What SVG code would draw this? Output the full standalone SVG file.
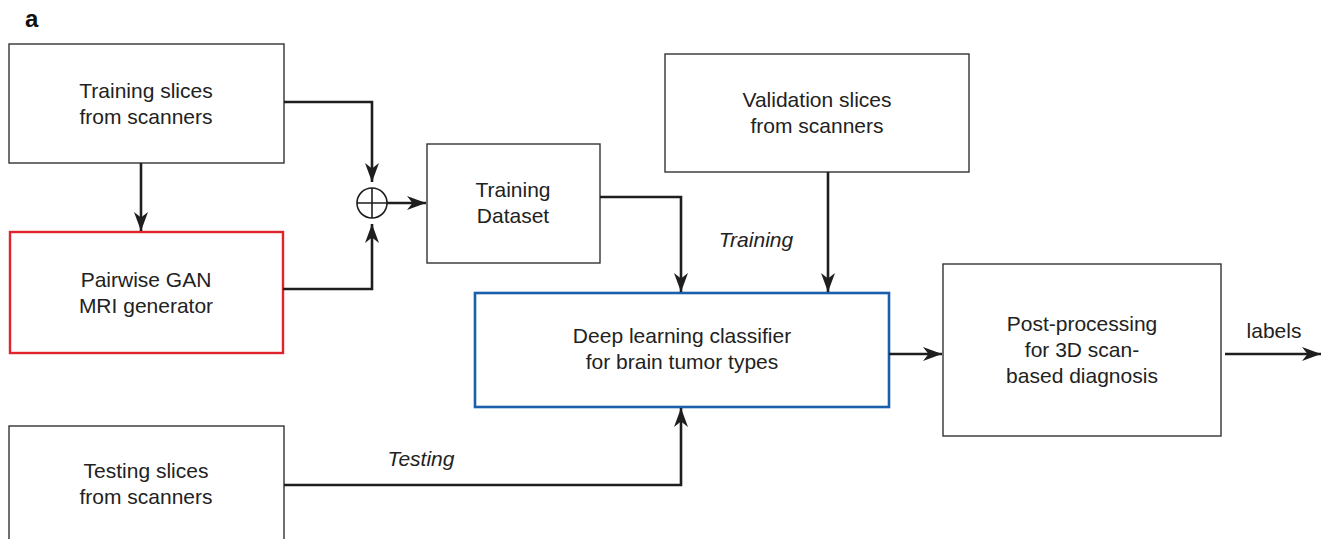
<svg xmlns="http://www.w3.org/2000/svg" width="1322" height="539" viewBox="0 0 1322 539">
  <style>
    .box { fill: #ffffff; stroke: #333333; stroke-width: 1.4; }
    .red { fill: #ffffff; stroke: #e0242c; stroke-width: 2.4; }
    .blue { fill: #ffffff; stroke: #1a5fab; stroke-width: 2.6; }
    .lbl { font-family: "Liberation Sans", Arial, Helvetica, sans-serif; font-size: 21px; fill: #222222; text-anchor: middle; }
    .it { font-style: italic; }
    .wire { fill: none; stroke: #1e1e1e; stroke-width: 2.6; }
    .panel { font-family: "Liberation Sans", Arial, Helvetica, sans-serif; font-size: 24px; font-weight: bold; fill: #111111; }
  </style>
  <defs>
    <marker id="head" markerUnits="userSpaceOnUse" markerWidth="24" markerHeight="16" viewBox="-20 -8 22 16" refX="0" refY="0" orient="auto">
      <path d="M0,0 L-19,-7 L-13.5,0 L-19,7 Z" fill="#1e1e1e"/>
    </marker>
  </defs>

  <rect width="1322" height="539" fill="#ffffff"/>
  <text class="panel" x="25" y="27">a</text>

  <g id="training-slices">
    <rect class="box" x="9" y="44" width="275" height="119"/>
    <text class="lbl" x="146" y="98">Training slices</text>
    <text class="lbl" x="146" y="124">from scanners</text>
  </g>

  <g id="gan-generator">
    <rect class="red" x="10" y="232" width="273" height="121"/>
    <text class="lbl" x="146" y="287">Pairwise GAN</text>
    <text class="lbl" x="146" y="313">MRI generator</text>
  </g>

  <g id="combine">
    <circle cx="372" cy="203" r="15" fill="#ffffff" stroke="#1e1e1e" stroke-width="1.6"/>
    <path d="M357,203 H387 M372,188 V218" stroke="#1e1e1e" stroke-width="1.6"/>
  </g>

  <g id="training-dataset">
    <rect class="box" x="427" y="144" width="173" height="119"/>
    <text class="lbl" x="513" y="197">Training</text>
    <text class="lbl" x="513" y="223">Dataset</text>
  </g>

  <g id="validation-slices">
    <rect class="box" x="665" y="54" width="304" height="118"/>
    <text class="lbl" x="817" y="107">Validation slices</text>
    <text class="lbl" x="817" y="133">from scanners</text>
  </g>

  <g id="classifier">
    <rect class="blue" x="475" y="293" width="414" height="114"/>
    <text class="lbl" x="682" y="343">Deep learning classifier</text>
    <text class="lbl" x="682" y="369">for brain tumor types</text>
  </g>

  <g id="post-processing">
    <rect class="box" x="943" y="264" width="278" height="172"/>
    <text class="lbl" x="1082" y="331">Post-processing</text>
    <text class="lbl" x="1082" y="357">for 3D scan-</text>
    <text class="lbl" x="1082" y="383">based diagnosis</text>
  </g>

  <g id="testing-slices">
    <rect class="box" x="9" y="426" width="275" height="130"/>
    <text class="lbl" x="146" y="478">Testing slices</text>
    <text class="lbl" x="146" y="504">from scanners</text>
  </g>

  <g id="connectors">
    <path class="wire" d="M141,163 V231" marker-end="url(#head)"/>
    <path class="wire" d="M284,102 H372 V182" marker-end="url(#head)"/>
    <path class="wire" d="M283,289 H372 V224" marker-end="url(#head)"/>
    <path class="wire" d="M387,203 H426" marker-end="url(#head)"/>
    <path class="wire" d="M600,197 H681 V292" marker-end="url(#head)"/>
    <path class="wire" d="M828,172 V292" marker-end="url(#head)"/>
    <path class="wire" d="M284,485 H681 V408" marker-end="url(#head)"/>
    <path class="wire" d="M889,354 H942" marker-end="url(#head)"/>
    <path class="wire" d="M1225,354 H1321" marker-end="url(#head)"/>
    <text class="lbl it" x="756" y="247">Training</text>
    <text class="lbl it" x="421" y="466">Testing</text>
    <text class="lbl" x="1274" y="338">labels</text>
  </g>
</svg>
